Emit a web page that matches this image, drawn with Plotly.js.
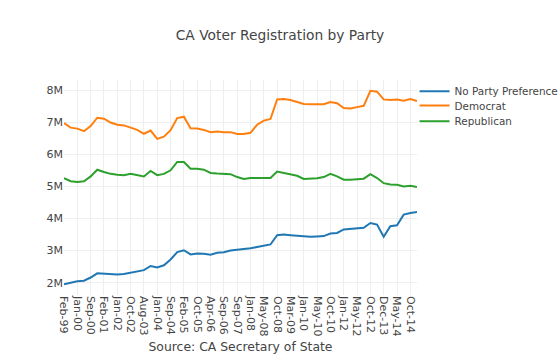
<!DOCTYPE html>
<html>
<head>
<meta charset="utf-8">
<script src="https://cdn.plot.ly/plotly-3.0.1.min.js"></script>
<style>html,body{margin:0;padding:0;background:#fff;}#chart{width:560px;height:360px;}</style>
</head>
<body>
<div id="chart"></div>
<script>
// Report dates (categories)
var reportDates = [
  "Feb-99","Oct-99","Jan-00","Feb-00","Sep-00","Oct-00","Feb-01","Oct-01",
  "Jan-02","Feb-02","Oct-02","Feb-03","Aug-03","Sep-03","Jan-04","Feb-04",
  "Sep-04","Oct-04","Feb-05","Sep-05","Oct-05","Feb-06","Apr-06","May-06",
  "Sep-06","Oct-06","Sep-07","Dec-07","Jan-08","Apr-08","May-08","Sep-08",
  "Oct-08","Feb-09","Mar-09","May-09","Jan-10","Apr-10","May-10","Sep-10",
  "Oct-10","Feb-11","Jan-12","Apr-12","May-12","Sep-12","Oct-12","Feb-13",
  "Dec-13","Apr-14","May-14","Sep-14","Oct-14","Feb-15"
];
// Tick labels shown on the x axis
var tickLabels = [
  "Feb-99","Jan-00","Sep-00","Feb-01","Jan-02","Oct-02","Aug-03","Jan-04",
  "Sep-04","Feb-05","Oct-05","Apr-06","Sep-06","Sep-07","Jan-08","May-08",
  "Oct-08","Mar-09","Jan-10","May-10","Oct-10","Jan-12","May-12","Oct-12",
  "Dec-13","May-14","Oct-14"
];
// Registered voters, millions
var noPartyPreference = [
  1.95,2.00,2.04,2.06,2.16,2.29,2.28,2.26,2.25,2.27,2.31,2.35,2.39,2.52,2.47,2.54,
  2.72,2.95,3.01,2.88,2.91,2.90,2.87,2.93,2.95,3.00,3.02,3.03,3.07,3.11,3.16,3.19,
  3.48,3.50,3.48,3.46,3.45,3.43,3.44,3.45,3.53,3.55,3.66,3.68,3.69,3.71,3.86,3.81,
  3.43,3.76,3.79,4.12,4.17,4.20
];
var democrat = [
  6.97,6.83,6.80,6.72,6.88,7.14,7.11,6.99,6.92,6.90,6.83,6.76,6.64,6.74,6.48,6.55,
  6.75,7.13,7.17,6.81,6.80,6.76,6.69,6.71,6.69,6.69,6.63,6.63,6.67,6.92,7.05,7.10,
  7.71,7.72,7.69,7.64,7.57,7.56,7.57,7.56,7.63,7.59,7.44,7.43,7.47,7.51,7.98,7.95,
  7.71,7.69,7.71,7.67,7.72,7.66
];
var republican = [
  5.26,5.16,5.14,5.16,5.31,5.52,5.45,5.39,5.36,5.35,5.39,5.35,5.31,5.48,5.35,5.39,
  5.50,5.76,5.76,5.55,5.55,5.52,5.42,5.40,5.38,5.38,5.29,5.23,5.26,5.26,5.27,5.26,
  5.46,5.42,5.38,5.33,5.23,5.23,5.25,5.29,5.39,5.31,5.21,5.21,5.23,5.24,5.38,5.26,
  5.10,5.06,5.05,5.00,5.02,4.98
];
var seriesNames = ["No Party Preference","Democrat","Republican"];
var seriesColors = ["#1f77b4","#ff7f0e","#2ca02c"];
var seriesValues = [noPartyPreference, democrat, republican];

var font = "'DejaVu Sans', Verdana, sans-serif";
var legendIds = ["legend2", "legend3", "legend4"];
var legendY = [1.015, 0.949, 0.876];
var traces = seriesValues.map(function(v, k){
  return {x: reportDates, y: v, type: "scatter", mode: "lines", name: seriesNames[k],
          legend: legendIds[k], line: {color: seriesColors[k], width: 2}};
});
var layout = {
  width: 560, height: 360,
  showlegend: true,
  margin: {l: 64, r: 143, t: 80, b: 65, autoexpand: false},
  font: {family: font, size: 11, color: "#444"},
  title: {text: "CA Voter Registration by Party", font: {family: font, size: 13.8, color: "#444"}},
  xaxis: {type: "category", tickmode: "array", tickvals: tickLabels, ticktext: tickLabels,
          tickangle: 90, gridcolor: "#eee", showline: false, zeroline: false,
          title: {text: "Source: CA Secretary of State", font: {family: font, size: 12.4, color: "#444"}}},
  yaxis: {ticksuffix: "M", dtick: 1, gridcolor: "#eee", zeroline: false, showline: false},
  paper_bgcolor: "#fff", plot_bgcolor: "#fff"
};
legendIds.forEach(function(id, k){
  layout[id] = {x: 0.993, xanchor: "left", y: legendY[k], yanchor: "top",
                bgcolor: "rgba(0,0,0,0)", font: {family: font, size: 10.4, color: "#444"}};
});
Plotly.newPlot("chart", traces, layout, {displayModeBar: false, staticPlot: true});
</script>
</body>
</html>
